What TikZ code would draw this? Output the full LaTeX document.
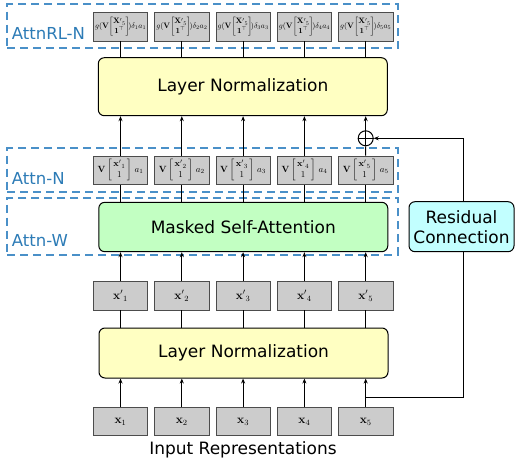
\documentclass[tikz,border=0pt]{standalone}
\usepackage{amsmath}
\usepackage{graphicx}
\usepackage[no-math]{fontspec}
\setmainfont{DejaVu Sans}
\usetikzlibrary{arrows.meta}
\definecolor{gbox}{HTML}{CCCCCC}
\definecolor{lnfill}{HTML}{FFFFC2}
\definecolor{msafill}{HTML}{C2FFC2}
\definecolor{resfill}{HTML}{C2FFFF}
\definecolor{dashc}{HTML}{4A90C8}
\definecolor{labc}{HTML}{2C7BB6}
\begin{document}
\begin{tikzpicture}[x=1pt,y=-1pt,
 vbox/.style={draw=black!70,fill=gbox,minimum width=54.4pt,minimum height=28.5pt,inner sep=0pt,line width=0.8pt},
 bigbox/.style={draw=black,rounded corners=6pt,line width=1pt,minimum width=289pt,inner sep=0pt,font=\fontsize{17}{20}\selectfont},
 grp/.style={draw=dashc,dash pattern=on 8pt off 5pt,line width=1.7pt,minimum width=390.4pt,inner sep=0pt},
 grplab/.style={text=labc,anchor=base west,font=\fontsize{16.5}{20}\selectfont,inner sep=0pt},
 conn/.style={line width=1pt},
 arr/.style={conn,-{Stealth[length=5pt,width=4pt]}},
]
\useasboundingbox (0,0) rectangle (515,461);

% group frames
\node[grp,minimum height=44pt] (grpRL) at (202.5,26.3) {};
\node[grp,minimum height=44pt] (grpN) at (202.5,170.3) {};
\node[grp,minimum height=57.3pt] (grpW) at (202.5,226.35) {};
\node[grplab] (labRL) at (11.7,39) {AttnRL-N};
\node[grplab] (labN) at (11.7,184) {Attn-N};
\node[grplab] (labW) at (11.7,246) {Attn-W};

% big boxes
\node[bigbox,fill=lnfill,minimum height=58pt] (tln) at (242.8,86.7) {Layer Normalization};
\node[bigbox,fill=msafill,minimum height=49.4pt] (msa) at (243.3,227) {Masked Self-Attention};
\node[bigbox,fill=lnfill,minimum height=50pt] (bln) at (243.5,353) {Layer Normalization};

% column boxes
\foreach \i in {1,...,5}{
  \pgfmathsetmacro\cx{120.5+61.3*(\i-1)}
  \node[vbox] (g\i) at (\cx,26.7) {\resizebox{51pt}{!}{$g(\mathbf{V}\!\begin{bmatrix}{\mathbf{X}'}_5\\ \mathbf{1}^{\top}\end{bmatrix}\!)\delta_{\i} a_{\i}$}};
  \node[vbox] (an\i) at (\cx,170.2) {\scalebox{0.9}{$\mathbf{V}\begin{bmatrix}\,{\mathbf{x}'}_{\i}\,\\ 1\end{bmatrix}\,a_{\i}$}};
  \node[vbox] (xp\i) at (\cx,295.8) {\fontsize{12}{14}\selectfont${\mathbf{x}'}_{\i}$};
  \node[vbox] (x\i) at (\cx,421.5) {\fontsize{12}{14}\selectfont$\mathbf{x}_{\i}$};
}

\node[circle,draw,line width=1pt,minimum size=15pt,inner sep=0pt] (plus) at (365.7,138.3) {};
\draw[conn] (plus.north) -- (plus.south) (plus.west) -- (plus.east);

% connectors
\foreach \i in {1,...,5}{
  \draw[conn] (tln.north -| g\i.south) -- (g\i.south);
  \draw[conn] (msa.north -| an\i.south) -- (an\i.south);
  \draw[arr] (xp\i.north) -- (xp\i.north |- msa.south);
  \draw[conn] (bln.north -| xp\i.south) -- (xp\i.south);
  \draw[arr] (x\i.north) -- (x\i.north |- bln.south);
}
\foreach \i in {1,...,4}{
  \draw[arr] (an\i.north) -- (an\i.north |- tln.south);
}
\draw[conn] (an5.north) -- (plus.south);
\draw[arr] (plus.north) -- (plus.north |- tln.south);

% residual
\coordinate (rs) at (365.7,397.7);
\coordinate (r1) at (463,397.7);
\coordinate (r2) at (463,138.3);
\draw[arr] (rs) -- (r1) -- (r2) -- (plus.east);
\node[draw=black,rounded corners=6pt,line width=1pt,fill=resfill,minimum width=105pt,minimum height=50pt,inner sep=0pt,align=center,font=\fontsize{17}{20}\selectfont] (res) at (461.5,226.7) {Residual\\Connection};

\node[anchor=base,inner sep=0pt,font=\fontsize{17}{20}\selectfont] (inp) at (243,454.5) {Input Representations};
\end{tikzpicture}
\end{document}
